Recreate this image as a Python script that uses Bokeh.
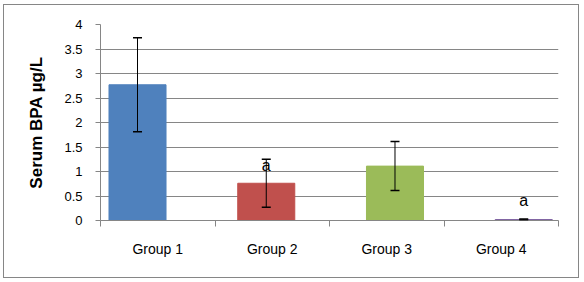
import numpy as np
from bokeh.plotting import figure
from bokeh.models import ColumnDataSource, FixedTicker, Whisker, TeeHead, InlineStyleSheet, Range1d
from bokeh.core.properties import value
from bokeh.embed import file_html
from bokeh.resources import INLINE

categories = ["Group 1", "Group 2", "Group 3", "Group 4"]
means = [2.77, 0.76, 1.11, 0.02]
errors = [0.96, 0.49, 0.50, 0.01]
colors = ["#4F81BD", "#C0504D", "#9BBB59", "#8064A2"]
sig_labels = ["", "a", "", "a"]
sig_y = [0, 1.12, 0, 0.41]
y_ticks = [0, 0.5, 1, 1.5, 2, 2.5, 3, 3.5, 4]
y_tick_labels = ["0", "0.5", "1", "1.5", "2", "2.5", "3", "3.5", "4"]

n = len(categories)
xs = list(np.arange(n) + 0.5)
src = ColumnDataSource(dict(
    x=xs, top=means, color=colors,
    upper=[m + e for m, e in zip(means, errors)],
    lower=[m - e for m, e in zip(means, errors)],
    lab=sig_labels, ly=sig_y,
))

FONT = "Liberation Sans"
GREY = "#868686"

p = figure(width=581, height=281, output_backend="svg", toolbar_location=None,
           x_range=(0, n), y_range=(0, 4),
           min_border_left=100, min_border_right=23, min_border_top=24, min_border_bottom=61)
# the bars in the reference sit on a slightly wider spacing than the category slots
p.extra_x_ranges = {"bars": Range1d(0.2125, 3.77)}
p.outline_line_color = None
p.background_fill_color = "white"
p.border_fill_color = "white"
p.stylesheets = [InlineStyleSheet(css=(
    ":host { position: relative; }"
    ":host::after { content: ''; position: absolute; left: 3px; top: 4px; right: 2px; bottom: 3px;"
    " border: 1px solid #868686; pointer-events: none; z-index: 100; }"
))]

p.vbar(x="x", top="top", width=0.443, color="color", source=src, x_range_name="bars")

w = Whisker(base="x", upper="upper", lower="lower", source=src, level="annotation",
            x_range_name="bars",
            line_color="black", line_width=1,
            upper_head=TeeHead(size=9, line_color="black", line_width=1.5),
            lower_head=TeeHead(size=9, line_color="black", line_width=1.5))
p.add_layout(w)

p.text(x="x", y="ly", text="lab", source=src, text_align="center", text_baseline="middle",
       x_range_name="bars",
       text_font=value(FONT), text_font_size="16px", text_color="black")

# y axis
p.yaxis.ticker = FixedTicker(ticks=y_ticks)
p.yaxis.major_label_overrides = {t: l for t, l in zip(y_ticks, y_tick_labels)}
p.yaxis.axis_label = "Serum BPA µg/L"
p.yaxis.axis_label_text_font = FONT
p.yaxis.axis_label_text_font_style = "bold"
p.yaxis.axis_label_text_font_size = "17px"
p.yaxis.axis_label_text_color = "black"
p.yaxis.axis_label_standoff = 15
p.yaxis.major_label_text_font = FONT
p.yaxis.major_label_text_font_size = "13px"
p.yaxis.major_label_text_color = "black"
p.yaxis.major_label_standoff = 13
p.yaxis.major_tick_out = 5
p.yaxis.major_tick_in = 0
p.yaxis.minor_tick_out = 0
p.yaxis.minor_tick_in = 0
p.yaxis.axis_line_color = GREY
p.yaxis.major_tick_line_color = GREY

# x axis: labels at slot centres, ticks at slot boundaries
p.xaxis.ticker = FixedTicker(ticks=xs, minor_ticks=list(range(n + 1)))
p.xaxis.major_label_overrides = {x: c for x, c in zip(xs, categories)}
p.xaxis.major_label_text_font = FONT
p.xaxis.major_label_text_font_size = "14px"
p.xaxis.major_label_text_color = "black"
p.xaxis.major_label_standoff = 14
p.xaxis.major_tick_out = 0
p.xaxis.major_tick_in = 0
p.xaxis.minor_tick_out = 6
p.xaxis.minor_tick_in = 0
p.xaxis.axis_line_color = GREY
p.xaxis.minor_tick_line_color = GREY

p.xgrid.grid_line_color = None
p.ygrid.ticker = FixedTicker(ticks=y_ticks)
p.ygrid.grid_line_color = GREY

open("out.html", "w").write(file_html(p, INLINE))
